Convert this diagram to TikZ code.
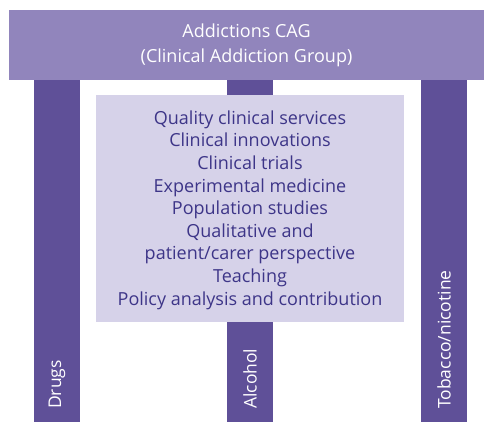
\documentclass[tikz,border=0pt]{standalone}
\usepackage{fontspec}
\setmainfont{Open Sans}
\definecolor{bannerc}{HTML}{9185BC}
\definecolor{pillarc}{HTML}{5F5098}
\definecolor{boxc}{HTML}{D6D2E9}
\definecolor{textc}{HTML}{3D3588}
\tikzset{
  pillar/.style={fill=pillarc, draw=none, minimum width=46pt, minimum height=342pt, inner sep=0pt},
  plabel/.style={text=white, rotate=90, anchor=west, inner sep=0pt, font=\fontsize{17.5}{20}\selectfont},
}
\begin{document}
\begin{tikzpicture}[x=1pt,y=1pt]
\useasboundingbox (0,0) rectangle (484,422);
\node[pillar] (p1) at (57,171) {};
\node[pillar] (p2) at (250,171) {};
\node[pillar] (p3) at (444,171) {};
\node[fill=boxc, draw=none, minimum width=308pt, minimum height=227pt, inner sep=0pt] (box) at (250,213.5) {};
\node[text=textc, align=center, font=\fontsize{18}{22.6}\selectfont] (list) at (250,212) {Quality clinical services\\Clinical innovations\\Clinical trials\\Experimental medicine\\Population studies\\Qualitative and\\patient/carer perspective\\Teaching\\Policy analysis and contribution};
\node[fill=bannerc, draw=none, minimum width=475pt, minimum height=70pt, inner sep=0pt] (banner) at (246.5,377) {};
\node[text=white, align=center, font=\fontsize{18}{25}\selectfont] (title) at (banner.center) {Addictions CAG\\(Clinical Addiction Group)};
\node[plabel] (l1) at (57,13) {Drugs};
\node[plabel] (l2) at (250,13) {Alcohol};
\node[plabel] (l3) at (444,13) {Tobacco/nicotine};
\end{tikzpicture}
\end{document}
